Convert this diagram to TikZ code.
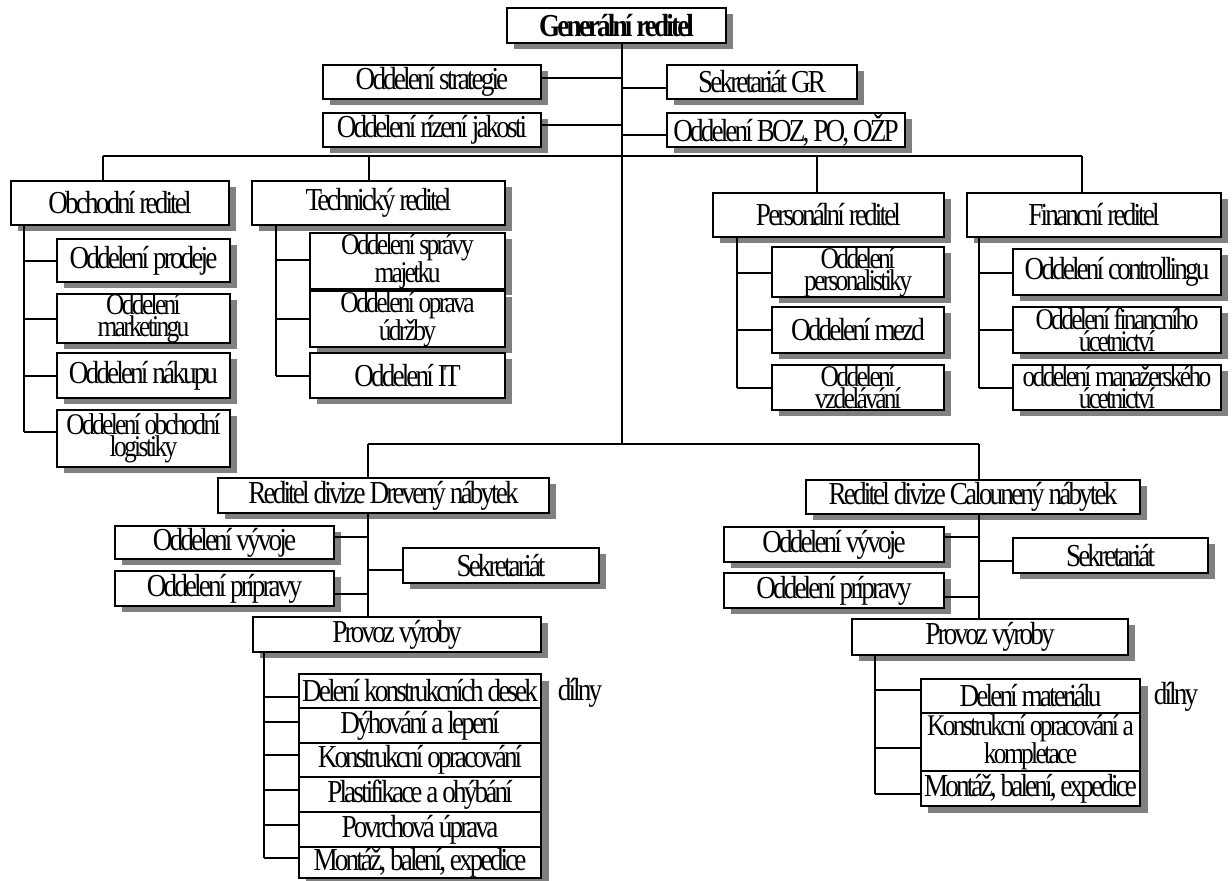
\documentclass[tikz,border=0pt]{standalone}
\usepackage{fontspec}
\setmainfont{Liberation Serif}
\newfontfamily\orgfont[LetterSpace=-9,FakeStretch=0.85]{Liberation Serif}
\usetikzlibrary{shadows}
\tikzset{
  ln/.style={line width=1.7pt},
  shd/.style={drop shadow={shadow xshift=7pt,shadow yshift=-6pt,fill=black!50,opacity=1}},
  box/.style={draw,line width=1.7pt,fill=white,inner sep=0pt,align=center,
    font=\orgfont\fontsize{32}{24}\selectfont},
  two/.style={font=\orgfont\fontsize{30}{22}\selectfont},
  plain/.style={inner sep=0pt,font=\orgfont\fontsize{32}{24}\selectfont},
  shadowfill/.style={fill=black!50},
}
\newcommand\orgbox[7][shd]{\node[box,#1,minimum width={(#5-#3)*1pt},minimum height={(#6-#4)*1pt}] (#2) at ({(#3+#5)/2},{(#4+#6)/2}) {#7};}
\begin{document}
\begin{tikzpicture}[x=1pt,y=-1pt]
\fill[white] (0,0) rectangle (1232,881);
\useasboundingbox (0,0) rectangle (1232,881);

% ---------- top level ----------
\orgbox{gr}{507}{8}{726}{43}{\bfseries Generální reditel}
\orgbox{strat}{323}{65}{541}{99}{Oddelení strategie}
\orgbox{jak}{323}{113}{541}{147}{Oddelení rízení jakosti}
\orgbox{sek}{667}{65}{857}{99}{Sekretariát GR}
\orgbox{boz}{667}{113}{905}{147}{Oddelení BOZ, PO, OŽP}

% ---------- directors ----------
\orgbox{obch}{11}{181}{229}{225}{Obchodní reditel}
\orgbox{tech}{252}{181}{505}{225}{Technický reditel}
\orgbox{pers}{713}{193}{944}{237}{Personální reditel}
\orgbox{fin}{967}{193}{1221}{237}{Financní reditel}

\orgbox{prod}{57}{239}{230}{282}{Oddelení prodeje}
\orgbox[shd,two]{mark}{57}{296}{230}{341}{Oddelení\\marketingu}
\orgbox{nak}{57}{353}{230}{398}{Oddelení nákupu}
\orgbox[shd,two]{logi}{57}{410}{230}{467}{Oddelení obchodní\\logistiky}

\orgbox[shd,two]{spr}{310}{239}{505}{283}{Oddelení správy\\majetku}
\orgbox[shd,two]{opr}{310}{296}{505}{342}{Oddelení oprava\\údržby}
\orgbox{itd}{310}{353}{505}{398}{Oddelení IT}

\orgbox[shd,two]{persn}{772}{249}{944}{295}{Oddelení\\personalistiky}
\orgbox{mezd}{772}{307}{944}{353}{Oddelení mezd}
\orgbox[shd,two]{vzd}{772}{365}{944}{410}{Oddelení\\vzdelávání}

\orgbox{ctrl}{1013}{249}{1221}{295}{Oddelení controllingu}
\orgbox[shd,two]{fuc}{1013}{307}{1221}{353}{Oddelení financního\\úcetnictví}
\orgbox[shd,two]{muc}{1013}{365}{1221}{410}{oddelení manažerského\\úcetnictví}

% ---------- divisions ----------
\orgbox{drev}{218}{478}{549}{513}{Reditel divize Drevený nábytek}
\orgbox{cal}{806}{480}{1140}{514}{Reditel divize Calounený nábytek}

\orgbox{vyv1}{115}{526}{334}{559}{Oddelení vývoje}
\orgbox{pri1}{115}{571}{334}{606}{Oddelení prípravy}
\orgbox{sek1}{403}{548}{599}{583}{Sekretariát}
\orgbox{prov1}{253}{617}{541}{652}{Provoz výroby}

\orgbox{vyv2}{724}{527}{944}{562}{Oddelení vývoje}
\orgbox{pri2}{724}{573}{944}{608}{Oddelení prípravy}
\orgbox{sek2}{1013}{538}{1208}{573}{Sekretariát}
\orgbox{prov2}{852}{619}{1128}{655}{Provoz výroby}

% workshop stacks
\fill[shadowfill] (306,681) rectangle (549,884);
\orgbox[]{d1}{299}{674}{541}{708}{Delení konstrukcních desek}
\orgbox[]{d2}{299}{708}{541}{743}{Dýhování a lepení}
\orgbox[]{d3}{299}{743}{541}{777}{Konstrukcní opracování}
\orgbox[]{d4}{299}{777}{541}{812}{Plastifikace a ohýbání}
\orgbox[]{d5}{299}{812}{541}{847}{Povrchová úprava}
\orgbox[]{d6}{299}{847}{541}{878}{Montáž, balení, expedice}
\node[plain] (dil1) at (580,693) {dílny};

\fill[shadowfill] (928,686) rectangle (1148,813);
\orgbox[]{e1}{921}{679}{1140}{713}{Delení materiálu}
\orgbox[two]{e2}{921}{713}{1140}{771}{Konstrukcní opracování a\\kompletace}
\orgbox[]{e3}{921}{771}{1140}{806}{Montáž, balení, expedice}
\node[plain] (dil2) at (1176,697) {dílny};

% ---------- connectors ----------
\coordinate (t0) at (622,43);
\coordinate (bb) at (622,444);
\draw[ln] (t0) -- (bb);
\coordinate (ts) at (622,78);  \draw[ln] (ts) -- (ts -| strat.east);
\coordinate (tj) at (622,125); \draw[ln] (tj) -- (tj -| jak.east);
\coordinate (tk) at (622,88);  \draw[ln] (tk) -- (tk -| sek.west);
\coordinate (tb) at (622,135); \draw[ln] (tb) -- (tb -| boz.west);

\coordinate (b1) at (103,156);
\coordinate (b2) at (369,156);
\coordinate (b3) at (817,156);
\coordinate (b4) at (1082,156);
\draw[ln] (b1) -- (b4);
\draw[ln] (b1) -- (b1 |- obch.north);
\draw[ln] (b2) -- (b2 |- tech.north);
\draw[ln] (b3) -- (b3 |- pers.north);
\draw[ln] (b4) -- (b4 |- fin.north);

% obchodni
\coordinate (o0) at (24,225); \coordinate (o9) at (24,432);
\draw[ln] (o0) -- (o9);
\foreach \n/\y in {prod/261,mark/319,nak/376,logi/432}{
  \coordinate (k\n) at (24,\y); \draw[ln] (k\n) -- (k\n -| \n.west);}
% technicky
\coordinate (p0) at (276,225); \coordinate (p9) at (276,376);
\draw[ln] (p0) -- (p9);
\foreach \n/\y in {spr/260,opr/319,itd/376}{
  \coordinate (k\n) at (276,\y); \draw[ln] (k\n) -- (k\n -| \n.west);}
% personalni
\coordinate (q0) at (737,237); \coordinate (q9) at (737,388);
\draw[ln] (q0) -- (q9);
\foreach \n/\y in {persn/273,mezd/330,vzd/388}{
  \coordinate (k\n) at (737,\y); \draw[ln] (k\n) -- (k\n -| \n.west);}
% financni
\coordinate (r0) at (979,237); \coordinate (r9) at (979,388);
\draw[ln] (r0) -- (r9);
\foreach \n/\y in {ctrl/273,fuc/330,muc/388}{
  \coordinate (k\n) at (979,\y); \draw[ln] (k\n) -- (k\n -| \n.west);}

% divisions bus
\coordinate (bl) at (368,444);
\coordinate (br) at (979,444);
\draw[ln] (bl) -- (br);
\draw[ln] (bl) -- (bl |- drev.north);
\draw[ln] (br) -- (br |- cal.north);

% left division
\coordinate (dl) at (368,513);
\draw[ln] (dl) -- (dl |- prov1.north);
\coordinate (kv1) at (368,537); \draw[ln] (kv1) -- (kv1 -| vyv1.east);
\coordinate (kp1) at (368,594); \draw[ln] (kp1) -- (kp1 -| pri1.east);
\coordinate (ks1) at (368,570); \draw[ln] (ks1) -- (ks1 -| sek1.west);
\coordinate (w0) at (264,652); \coordinate (w9) at (264,858);
\draw[ln] (w0) -- (w9);
\foreach \n/\y in {d1/697,d2/722,d3/755,d4/790,d5/825,d6/858}{
  \coordinate (k\n) at (264,\y); \draw[ln] (k\n) -- (k\n -| \n.west);}

% right division
\coordinate (dr) at (979,514);
\draw[ln] (dr) -- (dr |- prov2.north);
\coordinate (kv2) at (979,537); \draw[ln] (kv2) -- (kv2 -| vyv2.east);
\coordinate (kp2) at (979,597); \draw[ln] (kp2) -- (kp2 -| pri2.east);
\coordinate (ks2) at (979,561); \draw[ln] (ks2) -- (ks2 -| sek2.west);
\coordinate (v0) at (875,655); \coordinate (v9) at (875,794);
\draw[ln] (v0) -- (v9);
\foreach \n/\y in {e1/690,e2/748,e3/794}{
  \coordinate (k\n) at (875,\y); \draw[ln] (k\n) -- (k\n -| \n.west);}
\end{tikzpicture}
\end{document}
